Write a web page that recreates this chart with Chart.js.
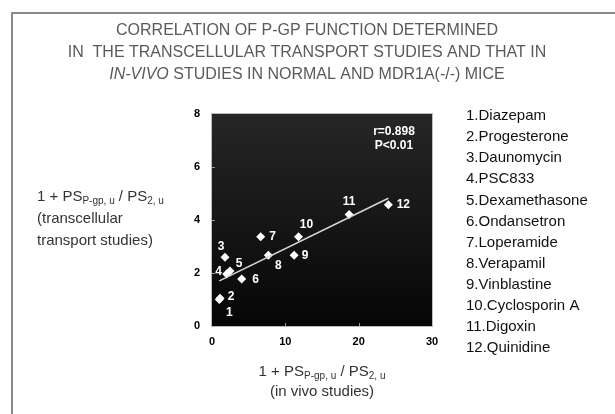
<!DOCTYPE html>
<html>
<head>
<meta charset="utf-8">
<script src="https://cdn.jsdelivr.net/npm/chart.js@4"></script>
<style>
  html, body { margin: 0; padding: 0; background: #fff; }
  #wrap { width: 615px; height: 414px; }
</style>
</head>
<body>
<div id="wrap"><canvas id="corrChart" width="615" height="414"></canvas></div>
<script>
// data
const drugs = ["Diazepam", "Progesterone", "Daunomycin", "PSC833", "Dexamethasone", "Ondansetron",
    "Loperamide", "Verapamil", "Vinblastine", "Cyclosporin A", "Digoxin", "Quinidine"];
const inVivo = [1.0, 1.1, 1.77, 2.0, 2.45, 4.05, 6.64, 7.68, 11.2, 11.8, 18.7, 24.05];
const transcellular = [1.0, 1.05, 2.59, 1.96, 2.08, 1.77, 3.37, 2.67, 2.67, 3.37, 4.21, 4.58];
const fitX = [1.0, 24.05];
const fitY = [1.70, 4.82];
const xTicks = [0, 10, 20, 30];
const yTicks = [0, 2, 4, 6, 8];
const stats = ["r=0.898", "P<0.01"];
const titleLines = ["CORRELATION OF P-GP FUNCTION DETERMINED", "IN  THE TRANSCELLULAR TRANSPORT STUDIES AND THAT IN"];

// label offsets (px) for the numbers next to each point
const labelOffsets = [[10, 13], [11, -1], [-4, -11], [-8, -2], [9, -7], [14, 1],
    [12, 0], [10, 10], [11, 0], [8, -12], [0, -13], [15, 0]];

const FONT = "'Liberation Sans', Arial, sans-serif";

function drawSubText(ctx, parts, x, y, align) {
    ctx.textBaseline = "middle";
    ctx.textAlign = "left";
    let w = 0;
    parts.forEach(p => {
        ctx.font = (p.sub ? "10px " : "15px ") + FONT;
        w += ctx.measureText(p.t).width;
    });
    let cx = align === "center" ? x - w / 2 : x;
    parts.forEach(p => {
        ctx.font = (p.sub ? "10px " : "15px ") + FONT;
        ctx.fillText(p.t, cx, p.sub ? y + 4 : y);
        cx += ctx.measureText(p.t).width;
    });
}

const psLabel = [
    { t: "1 + PS", sub: false },
    { t: "P-gp, u", sub: true },
    { t: " / PS", sub: false },
    { t: "2, u", sub: true }
];

const decor = {
    id: "decor",
    beforeDraw(chart) {
        const ctx = chart.ctx;
        const a = chart.chartArea;
        ctx.save();
        ctx.fillStyle = "#fff";
        ctx.fillRect(0, 0, chart.width, chart.height);
        const g = ctx.createLinearGradient(0, a.top, 0, a.bottom);
        g.addColorStop(0, "#262626");
        g.addColorStop(1, "#060606");
        ctx.fillStyle = g;
        ctx.fillRect(a.left, a.top, a.right - a.left, a.bottom - a.top);
        ctx.strokeStyle = "#bbb";
        ctx.lineWidth = 1;
        ctx.strokeRect(a.left - 0.5, a.top - 0.5, a.right - a.left + 1, a.bottom - a.top + 1);

        // small inner tick marks
        ctx.strokeStyle = "#999";
        const xs = chart.scales.x, ys = chart.scales.y;
        xTicks.slice(1, -1).forEach(v => {
            const px = Math.round(xs.getPixelForValue(v)) + 0.5;
            ctx.beginPath();
            ctx.moveTo(px, a.bottom);
            ctx.lineTo(px, a.bottom - 3);
            ctx.stroke();
        });
        yTicks.slice(1, -1).forEach(v => {
            const py = Math.round(ys.getPixelForValue(v)) + 0.5;
            ctx.beginPath();
            ctx.moveTo(a.left, py);
            ctx.lineTo(a.left + 3, py);
            ctx.stroke();
        });
        ctx.restore();
    },
    afterDatasetsDraw(chart) {
        const ctx = chart.ctx;
        const a = chart.chartArea;
        const meta = chart.getDatasetMeta(1);
        ctx.save();
        ctx.fillStyle = "#fff";
        ctx.font = "bold 12px " + FONT;
        ctx.textAlign = "center";
        ctx.textBaseline = "middle";
        meta.data.forEach((pt, i) => {
            const off = labelOffsets[i];
            ctx.fillText(String(i + 1), pt.x + off[0], pt.y + off[1]);
        });
        stats.forEach((s, i) => {
            ctx.fillText(s, a.right - 38, a.top + 18 + i * 14);
        });
        ctx.restore();
    },
    afterDraw(chart) {
        const ctx = chart.ctx;
        const a = chart.chartArea;
        ctx.save();

        // frame
        ctx.strokeStyle = "#8a8a8a";
        ctx.lineWidth = 2;
        ctx.beginPath();
        ctx.moveTo(12, chart.height);
        ctx.lineTo(12, 13);
        ctx.lineTo(chart.width, 13);
        ctx.stroke();

        // title
        ctx.fillStyle = "#5a5a5a";
        ctx.font = "16px " + FONT;
        ctx.textAlign = "center";
        ctx.textBaseline = "middle";
        titleLines.forEach((t, i) => ctx.fillText(t, 307, 31 + i * 22));
        const it = "IN-VIVO";
        const rest = " STUDIES IN NORMAL AND MDR1A(-/-) MICE";
        ctx.font = "italic 16px " + FONT;
        const w1 = ctx.measureText(it).width;
        ctx.font = "16px " + FONT;
        const w2 = ctx.measureText(rest).width;
        const sx = 307 - (w1 + w2) / 2;
        ctx.textAlign = "left";
        ctx.font = "italic 16px " + FONT;
        ctx.fillText(it, sx, 75);
        ctx.font = "16px " + FONT;
        ctx.fillText(rest, sx + w1, 75);

        // axis titles
        ctx.fillStyle = "#333";
        drawSubText(ctx, psLabel, 37, 197, "left");
        ctx.font = "15px " + FONT;
        ctx.textAlign = "left";
        ctx.fillText("(transcellular", 37, 219);
        ctx.fillText("transport studies)", 37, 241);

        const cx = (a.left + a.right) / 2;
        drawSubText(ctx, psLabel, cx, 372, "center");
        ctx.font = "15px " + FONT;
        ctx.textAlign = "center";
        ctx.fillText("(in vivo studies)", cx, 392);

        // drug list
        ctx.fillStyle = "#111";
        ctx.textAlign = "left";
        ctx.font = "15px " + FONT;
        drugs.forEach((d, i) => ctx.fillText((i + 1) + "." + d, 466, 116 + i * 21.1));
        ctx.restore();
    }
};

new Chart(document.getElementById("corrChart"), {
    type: "scatter",
    data: {
        datasets: [
            {
                type: "line",
                data: fitX.map((x, i) => ({ x: x, y: fitY[i] })),
                borderColor: "#d8d8d8",
                borderWidth: 1.5,
                pointRadius: 0,
                fill: false
            },
            {
                data: inVivo.map((x, i) => ({ x: x, y: transcellular[i] })),
                pointStyle: "rectRot",
                pointRadius: 4.5,
                pointBackgroundColor: "#fff",
                pointBorderWidth: 0,
                backgroundColor: "#fff"
            }
        ]
    },
    options: {
        responsive: false,
        animation: false,
        layout: { padding: { left: 182, top: 114, right: 183, bottom: 58 } },
        plugins: {
            legend: { display: false },
            tooltip: { enabled: false }
        },
        scales: {
            x: {
                type: "linear",
                min: 0,
                max: 30,
                afterBuildTicks: s => { s.ticks = xTicks.map(v => ({ value: v })); },
                afterFit: s => { s.height = 30; },
                grid: { display: false, drawTicks: false },
                border: { display: false },
                ticks: { color: "#000", padding: 9, font: { family: FONT, size: 11, weight: "bold" } }
            },
            y: {
                type: "linear",
                min: 0,
                max: 8,
                afterBuildTicks: s => { s.ticks = yTicks.map(v => ({ value: v })); },
                afterFit: s => { s.width = 30; },
                grid: { display: false, drawTicks: false },
                border: { display: false },
                ticks: { color: "#000", padding: 12, font: { family: FONT, size: 11, weight: "bold" } }
            }
        }
    },
    plugins: [decor]
});
</script>
</body>
</html>
